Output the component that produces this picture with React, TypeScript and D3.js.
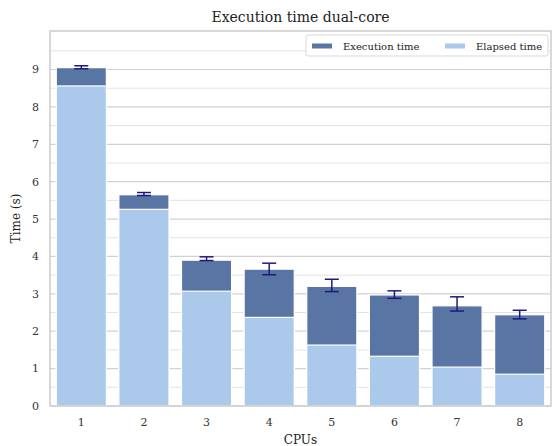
import React from "react";
import * as d3 from "d3";

const cpus = ["1", "2", "3", "4", "5", "6", "7", "8"];
const executionTime = [9.05, 5.65, 3.9, 3.66, 3.2, 2.97, 2.68, 2.44];
const errLow = [9.02, 5.63, 3.89, 3.51, 3.06, 2.88, 2.54, 2.33];
const errHigh = [9.1, 5.71, 3.99, 3.82, 3.39, 3.08, 2.92, 2.56];
const elapsedTime = [8.56, 5.26, 3.07, 2.37, 1.63, 1.33, 1.04, 0.85];
const yTicks = [0, 1, 2, 3, 4, 5, 6, 7, 8, 9];
const minorTicks = [0.5, 1.5, 2.5, 3.5, 4.5, 5.5, 6.5, 7.5, 8.5, 9.5];

const W = 552;
const H = 446;
const left = 50;
const right = 551;
const top = 31;
const bottom = 406;

const darkBlue = "#5975a4";
const lightBlue = "#abc9ea";
const errColor = "#1c1c78";
const font = "'DejaVu Serif', serif";

export default function App() {
  const x = d3.scaleBand<string>().domain(cpus).range([left, right]).paddingInner(0.2).paddingOuter(0.1);
  const y = d3.scaleLinear().domain([0, 10.03]).range([bottom, top]);
  const bw = x.bandwidth();
  const cap = 7;

  return (
    <svg width={W} height={H} style={{ position: "absolute", left: 0, top: 0, background: "#fff" }}>
      {/* grid */}
      {minorTicks.map((t) => (
        <line key={"m" + t} x1={left} x2={right} y1={y(t)} y2={y(t)} stroke="#e3e3e3" strokeWidth={1} />
      ))}
      {yTicks.map((t) => (
        <line key={"g" + t} x1={left} x2={right} y1={y(t)} y2={y(t)} stroke="#d2d2d2" strokeWidth={1.2} />
      ))}
      {/* bars: execution time (full) */}
      {cpus.map((c, i) => (
        <rect key={"e" + c} x={x(c)!} y={y(executionTime[i])} width={bw} height={y(0) - y(executionTime[i])}
          fill={darkBlue} stroke="#fff" strokeWidth={1.2} />
      ))}
      {/* bars: elapsed time */}
      {cpus.map((c, i) => (
        <rect key={"l" + c} x={x(c)!} y={y(elapsedTime[i])} width={bw} height={y(0) - y(elapsedTime[i])}
          fill={lightBlue} stroke="#fff" strokeWidth={1.2} />
      ))}
      {/* error bars */}
      {cpus.map((c, i) => {
        const cx = x(c)! + bw / 2;
        return (
          <g key={"err" + c} stroke={errColor} strokeWidth={1.5}>
            <line x1={cx} x2={cx} y1={y(errLow[i])} y2={y(errHigh[i])} />
            <line x1={cx - cap} x2={cx + cap} y1={y(errLow[i])} y2={y(errLow[i])} />
            <line x1={cx - cap} x2={cx + cap} y1={y(errHigh[i])} y2={y(errHigh[i])} />
          </g>
        );
      })}
      {/* frame */}
      <rect x={left} y={top} width={right - left} height={bottom - top} fill="none" stroke="#cccccc" strokeWidth={1.5} />
      {/* y tick labels */}
      {yTicks.map((t) => (
        <text key={"yt" + t} x={39} y={y(t)} dy="0.35em" textAnchor="end" fontFamily={font} fontSize={11} fill="#333">
          {t}
        </text>
      ))}
      {/* x tick labels */}
      {cpus.map((c) => (
        <text key={"xt" + c} x={x(c)! + bw / 2} y={426} textAnchor="middle" fontFamily={font} fontSize={11} fill="#333">
          {c}
        </text>
      ))}
      <text x={(left + right) / 2} y={444} textAnchor="middle" fontFamily={font} fontSize={12} fill="#222">CPUs</text>
      <text transform={`translate(20,${(top + bottom) / 2}) rotate(-90)`} textAnchor="middle" fontFamily={font} fontSize={12} fill="#222">
        Time (s)
      </text>
      <text x={(left + right) / 2} y={22} textAnchor="middle" fontFamily={font} fontSize={14} fill="#222">
        Execution time dual-core
      </text>
      {/* legend */}
      <g>
        <rect x={306} y={35} width={242} height={21} rx={2} fill="#fff" fillOpacity={0.9} stroke="#d8d8d8" strokeWidth={1} />
        <rect x={312} y={43.5} width={20} height={5} fill={darkBlue} />
        <text x={343} y={49.5} fontFamily={font} fontSize={10} fill="#222">Execution time</text>
        <rect x={445} y={43.5} width={20} height={5} fill={lightBlue} />
        <text x={476} y={49.5} fontFamily={font} fontSize={10} fill="#222">Elapsed time</text>
      </g>
    </svg>
  );
}
